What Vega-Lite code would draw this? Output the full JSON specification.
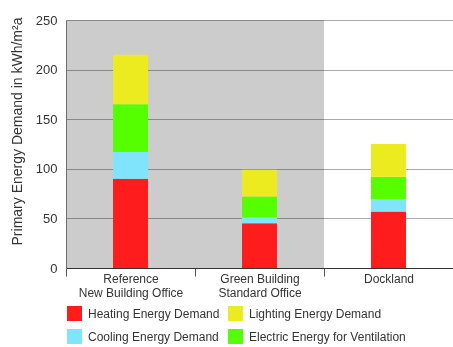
{
  "$schema": "https://vega.github.io/schema/vega-lite/v6.json",
  "width": 387,
  "height": 248,
  "autosize": "none",
  "padding": {"left": 66, "top": 20, "right": 0, "bottom": 79},
  "config": {"view": {"stroke": null}, "font": "Liberation Sans"},
  "datasets": {
    "bars": [
      {"category": "Reference|New Building Office", "type": "Heating Energy Demand", "rank": 1, "value": 90},
      {"category": "Reference|New Building Office", "type": "Cooling Energy Demand", "rank": 2, "value": 27},
      {"category": "Reference|New Building Office", "type": "Electric Energy for Ventilation", "rank": 3, "value": 48},
      {"category": "Reference|New Building Office", "type": "Lighting Energy Demand", "rank": 4, "value": 50},
      {"category": "Green Building|Standard Office", "type": "Heating Energy Demand", "rank": 1, "value": 45},
      {"category": "Green Building|Standard Office", "type": "Cooling Energy Demand", "rank": 2, "value": 6},
      {"category": "Green Building|Standard Office", "type": "Electric Energy for Ventilation", "rank": 3, "value": 21},
      {"category": "Green Building|Standard Office", "type": "Lighting Energy Demand", "rank": 4, "value": 27},
      {"category": "Dockland", "type": "Heating Energy Demand", "rank": 1, "value": 57},
      {"category": "Dockland", "type": "Cooling Energy Demand", "rank": 2, "value": 12},
      {"category": "Dockland", "type": "Electric Energy for Ventilation", "rank": 3, "value": 23},
      {"category": "Dockland", "type": "Lighting Energy Demand", "rank": 4, "value": 33}
    ],
    "bg": [
      {"category": "Reference|New Building Office", "value": 250},
      {"category": "Green Building|Standard Office", "value": 250}
    ]
  },
  "encoding": {
    "x": {
      "field": "category",
      "type": "nominal",
      "scale": {
        "domain": ["Reference|New Building Office", "Green Building|Standard Office", "Dockland"],
        "paddingInner": 0,
        "paddingOuter": 0
      },
      "axis": {
        "title": null,
        "labelAngle": 0,
        "tickBand": "extent",
        "tickSize": 8,
        "tickColor": "#555555",
        "domainColor": "#333333",
        "labelFontSize": 12,
        "labelColor": "#333333",
        "labelPadding": -3,
        "labelLineHeight": 14,
        "labelExpr": "split(datum.label, '|')"
      }
    },
    "y": {
      "field": "value",
      "type": "quantitative",
      "scale": {"domain": [0, 250], "nice": false},
      "axis": {
        "title": "Primary Energy Demand in kWh/m²a",
        "values": [0, 50, 100, 150, 200, 250],
        "ticks": false,
        "domainColor": "#888888",
        "gridColor": "#aaaaaa",
        "labelFontSize": 13,
        "labelColor": "#333333",
        "labelPadding": 9,
        "titleFontSize": 14,
        "titleFontWeight": "normal",
        "titleColor": "#333333",
        "titleX": -49,
        "titleY": 111,
        "titleBaseline": "middle"
      }
    }
  },
  "layer": [
    {
      "data": {"name": "bg"},
      "mark": {"type": "bar", "color": "#cccccc", "blend": "multiply", "width": {"band": 1}}
    },
    {
      "data": {"name": "bars"},
      "mark": {"type": "bar", "width": 35},
      "encoding": {
        "color": {
          "field": "type",
          "type": "nominal",
          "scale": {
            "domain": ["Heating Energy Demand", "Cooling Energy Demand", "Lighting Energy Demand", "Electric Energy for Ventilation"],
            "range": ["#ff1c1c", "#80e4fc", "#ebeb1f", "#55ff00"]
          },
          "legend": {
            "title": null,
            "orient": "none",
            "legendX": 1,
            "legendY": 286,
            "columns": 2,
            "symbolType": "square",
            "symbolSize": 225,
            "symbolStrokeWidth": 0,
            "symbolOpacity": 1,
            "labelFontSize": 12,
            "labelColor": "#333333",
            "labelOffset": 6,
            "columnPadding": 8,
            "rowPadding": 8
          }
        },
        "order": {"field": "rank", "type": "quantitative"}
      }
    }
  ]
}
